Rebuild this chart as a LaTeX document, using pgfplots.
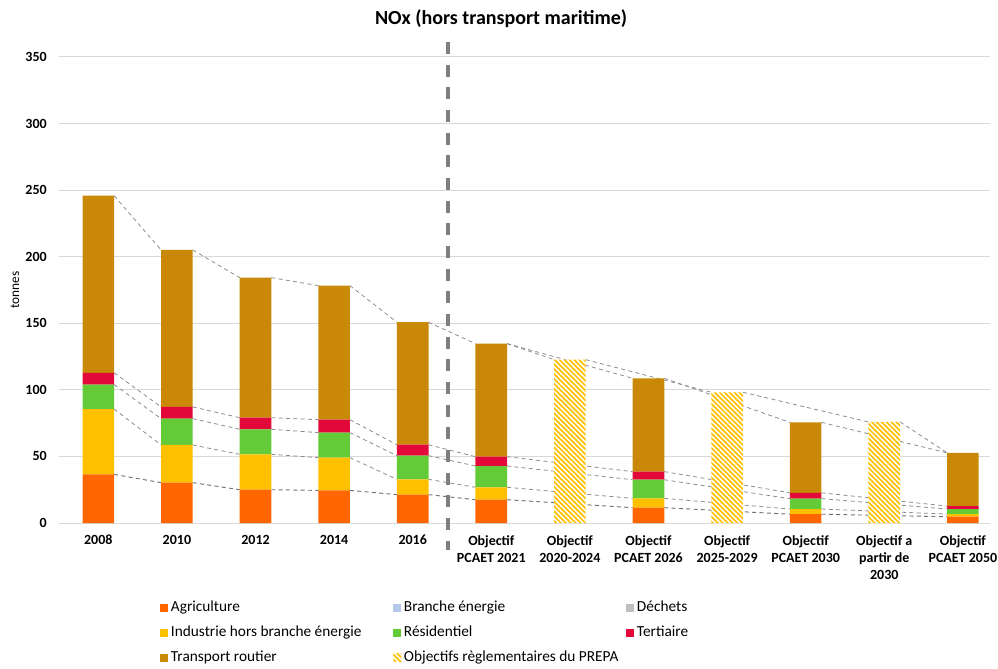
\documentclass[border=0pt]{standalone}
\usepackage{pgfplots}
\pgfplotsset{compat=1.18}
\usepackage{fontspec}
\setmainfont{Carlito}
\usetikzlibrary{patterns.meta}
\definecolor{cAgri}{HTML}{FF6600}
\definecolor{cBranche}{HTML}{B4C7E7}
\definecolor{cDechets}{HTML}{BFBFBF}
\definecolor{cInd}{HTML}{FFC000}
\definecolor{cRes}{HTML}{63CB38}
\definecolor{cTert}{HTML}{E2083A}
\definecolor{cTrans}{HTML}{C98805}
\definecolor{cGrid}{HTML}{D9D9D9}
\definecolor{cSer}{HTML}{8C8C8C}
\definecolor{cVline}{HTML}{7F7F7F}
\pgfplotsset{base/.style={
  scale only axis, width=698.25pt, height=349.5pt,
  at={(44.25pt,108.75pt)}, anchor=south west,
  xmin=-0.5, xmax=11.345, ymin=0, ymax=350, clip=false,
  /pgf/number format/assume math mode=true}}
\begin{document}
\begin{tikzpicture}
\useasboundingbox (0,0) rectangle (748.5pt,501pt);
% axis 1: grid, ticks, labels, series lines
\begin{axis}[base,
  axis line style={draw=none},
  major tick length=0pt,
  ytick={0,50,...,350},
  ymajorgrids, grid style={draw=cGrid, line width=0.75pt},
  xtick={0,...,11},
  xticklabels={2008,2010,2012,2014,2016,{Objectif\\PCAET 2021},{Objectif\\2020-2024},{Objectif\\PCAET 2026},{Objectif\\2025-2029},{Objectif\\PCAET 2030},{Objectif a\\partir de\\2030},{Objectif\\PCAET 2050}},
  xticklabel style={align=center, inner sep=0pt, yshift=-9pt, font=\bfseries\fontsize{10.5}{12.75}\selectfont},
  yticklabel style={inner sep=0pt, xshift=-9pt, font=\bfseries\fontsize{10.5}{12.75}\selectfont},
  ylabel={tonnes},
  ylabel style={at={(axis description cs:-0.0473,0.5)}, anchor=center, font=\fontsize{10}{12}\selectfont},
  title={NOx (hors transport maritime)},
  title style={at={(axis description cs:0.4748,1.0644)}, anchor=center, font=\bfseries\fontsize{15}{17}\selectfont},
  unbounded coords=jump,
]
% vertical separator
\addplot[cVline, line width=3pt, dash pattern=on 9pt off 8pt, forget plot] coordinates {(4.453,361.3) (4.453,-20.3)};
% series lines (agriculture top)
\addplot[cSer!80!black, line width=0.7pt, dash pattern=on 3pt off 2.5pt, forget plot] coordinates {
(0.201,36.5)(0.799,30.3)(1,nan)(1.201,30.3)(1.799,25.0)(2,nan)(2.201,25.0)(2.799,24.5)(3,nan)(3.201,24.5)(3.799,21.3)(4,nan)(4.201,21.3)(4.799,17.5)(5,nan)(5.201,17.5)(6.799,11.5)(7,nan)(7.201,11.5)(8.799,6.6)(9,nan)(9.201,6.6)(10.799,4.7)};
% industry top
\addplot[cSer, line width=0.6pt, dash pattern=on 3pt off 2.5pt, forget plot] coordinates {
(0.201,85.6)(0.799,58.6)(1,nan)(1.201,58.6)(1.799,51.6)(2,nan)(2.201,51.6)(2.799,49.1)(3,nan)(3.201,49.1)(3.799,32.8)(4,nan)(4.201,32.8)(4.799,26.8)(5,nan)(5.201,26.8)(6.799,18.5)(7,nan)(7.201,18.5)(8.799,10.5)(9,nan)(9.201,10.5)(10.799,6.7)};
% residential top
\addplot[cSer, line width=0.6pt, dash pattern=on 3pt off 2.5pt, forget plot] coordinates {
(0.201,104.0)(0.799,78.4)(1,nan)(1.201,78.4)(1.799,70.4)(2,nan)(2.201,70.4)(2.799,67.9)(3,nan)(3.201,67.9)(3.799,50.6)(4,nan)(4.201,50.6)(4.799,42.8)(5,nan)(5.201,42.8)(6.799,32.5)(7,nan)(7.201,32.5)(8.799,18.3)(9,nan)(9.201,18.3)(10.799,10.5)};
% tertiary top
\addplot[cSer, line width=0.6pt, dash pattern=on 3pt off 2.5pt, forget plot] coordinates {
(0.201,112.8)(0.799,87.2)(1,nan)(1.201,87.2)(1.799,79.1)(2,nan)(2.201,79.1)(2.799,77.6)(3,nan)(3.201,77.6)(3.799,58.8)(4,nan)(4.201,58.8)(4.799,49.8)(5,nan)(5.201,49.8)(6.799,38.6)(7,nan)(7.201,38.6)(8.799,22.7)(9,nan)(9.201,22.7)(10.799,12.7)};
% total
\addplot[cSer, line width=0.6pt, dash pattern=on 3pt off 2.5pt, forget plot] coordinates {
(0.201,245.8)(0.799,205.1)(1,nan)(1.201,205.1)(1.799,184.3)(2,nan)(2.201,184.3)(2.799,178.3)(3,nan)(3.201,178.3)(3.799,150.8)(4,nan)(4.201,150.8)(4.799,134.7)(5,nan)(5.201,134.7)(6.799,108.7)(7,nan)(7.201,108.7)(8.799,75.6)(9,nan)(9.201,75.6)(10.799,52.7)};
% PREPA chain
\addplot[cSer, line width=0.6pt, dash pattern=on 3pt off 2.5pt, forget plot] coordinates {
(5.201,134.7)(5.799,122.7)(6,nan)(6.201,122.7)(7.799,98.2)(8,nan)(8.201,98.2)(9.799,75.9)(10,nan)(10.201,75.9)(10.799,52.7)};
\end{axis}
% axis 2: stacked bars and legend
\begin{axis}[base, hide axis,
  ybar stacked, bar width=23.7pt,
  legend columns=3, legend cell align=left,
  legend image code/.code={\fill[#1] (0pt,-3pt) rectangle (6pt,3pt);},
  legend style={at={(0.1085,-0.1644)}, anchor=north west, draw=none, fill=none, inner sep=0pt,
    column sep=2pt, row sep=7.25pt,
    nodes={inner sep=0pt, text height=8.5pt, text depth=3pt},
    font=\fontsize{11.5}{13}\selectfont},
]
\addplot[fill=cAgri, draw=none] coordinates {(0,36.5)(1,30.3)(2,25.0)(3,24.5)(4,21.3)(5,17.5)(6,0)(7,11.5)(8,0)(9,6.6)(10,0)(11,4.7)};
\addlegendentry{\makebox[164.75pt][l]{Agriculture}}
\addplot[fill=cBranche, draw=none] coordinates {(0,0)(1,0)(2,0)(3,0)(4,0)(5,0)(6,0)(7,0)(8,0)(9,0)(10,0)(11,0)};
\addlegendentry{\makebox[164.75pt][l]{Branche énergie}}
\addplot[fill=cDechets, draw=none] coordinates {(0,0)(1,0)(2,0)(3,0)(4,0)(5,0)(6,0)(7,0)(8,0)(9,0)(10,0)(11,0)};
\addlegendentry{\makebox[164.75pt][l]{Déchets}}
\addplot[fill=cInd, draw=none] coordinates {(0,49.1)(1,28.3)(2,26.6)(3,24.6)(4,11.5)(5,9.3)(6,0)(7,7.0)(8,0)(9,3.9)(10,0)(11,2.0)};
\addlegendentry{\makebox[164.75pt][l]{Industrie hors branche énergie}}
\addplot[fill=cRes, draw=none] coordinates {(0,18.4)(1,19.8)(2,18.8)(3,18.8)(4,17.8)(5,16.0)(6,0)(7,14.0)(8,0)(9,7.8)(10,0)(11,3.8)};
\addlegendentry{\makebox[164.75pt][l]{Résidentiel}}
\addplot[fill=cTert, draw=none] coordinates {(0,8.8)(1,8.8)(2,8.7)(3,9.7)(4,8.2)(5,7.0)(6,0)(7,6.1)(8,0)(9,4.4)(10,0)(11,2.2)};
\addlegendentry{\makebox[164.75pt][l]{Tertiaire}}
\addplot[fill=cTrans, draw=none] coordinates {(0,133.0)(1,117.9)(2,105.2)(3,100.7)(4,92.0)(5,84.9)(6,0)(7,70.1)(8,0)(9,52.9)(10,0)(11,40.0)};
\addlegendentry{\makebox[164.75pt][l]{Transport routier}}
\addplot[fill=white, draw=none, postaction={pattern={Lines[angle=-45,distance=2.6pt,line width=1.3pt]}, pattern color=cInd}] coordinates {(0,0)(1,0)(2,0)(3,0)(4,0)(5,0)(6,122.7)(7,0)(8,98.2)(9,0)(10,75.9)(11,0)};
\addlegendentry{\makebox[164.75pt][l]{Objectifs règlementaires du PREPA}}
\end{axis}
\end{tikzpicture}
\end{document}
